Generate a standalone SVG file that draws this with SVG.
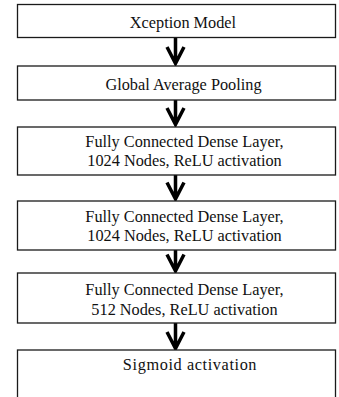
<svg xmlns="http://www.w3.org/2000/svg" width="339" height="397" viewBox="0 0 339 397">
<style>
.box{fill:#fff;stroke:#1a1a1a;stroke-width:1.3}
.t{font-family:"Liberation Serif","Times New Roman",serif;font-size:16.3px;fill:#111;text-anchor:middle}
.arr{fill:none;stroke:#000;stroke-width:3.5;stroke-linejoin:miter}
</style>
<rect width="339" height="397" fill="#fff"/>
<g id="connectors">
<path class="arr" d="M175.5 37.5V63.5M167 47L175.5 63.5L184 47"/>
<path class="arr" d="M175.5 100V124.5M167 108L175.5 124.5L184 108"/>
<path class="arr" d="M175.5 175V199M167 182.5L175.5 199L184 182.5"/>
<path class="arr" d="M175.5 250V271M167 254.5L175.5 271L184 254.5"/>
<path class="arr" d="M175.5 323V348.5M167 332L175.5 348.5L184 332"/>
</g>
<g id="n1"><rect class="box" x="17.5" y="4.5" width="318" height="33"/><text class="t" x="183" y="27.5">Xception Model</text></g>
<g id="n2"><rect class="box" x="17.5" y="66" width="318" height="34"/><text class="t" x="183.5" y="90">Global Average Pooling</text></g>
<g id="n3"><rect class="box" x="17.5" y="127" width="318" height="48"/><text class="t" x="184.5" y="147">Fully Connected Dense Layer,</text><text class="t" x="184.5" y="166">1024 Nodes, ReLU activation</text></g>
<g id="n4"><rect class="box" x="17.5" y="201" width="318" height="49"/><text class="t" x="184.5" y="221.5">Fully Connected Dense Layer,</text><text class="t" x="184.5" y="241">1024 Nodes, ReLU activation</text></g>
<g id="n5"><rect class="box" x="17.5" y="273" width="318" height="50"/><text class="t" x="184.5" y="295">Fully Connected Dense Layer,</text><text class="t" x="184.5" y="315">512 Nodes, ReLU activation</text></g>
<g id="n6"><rect class="box" x="17.5" y="350" width="318" height="60"/><text class="t" x="190" y="370" letter-spacing="0.6">Sigmoid activation</text></g>
</svg>
